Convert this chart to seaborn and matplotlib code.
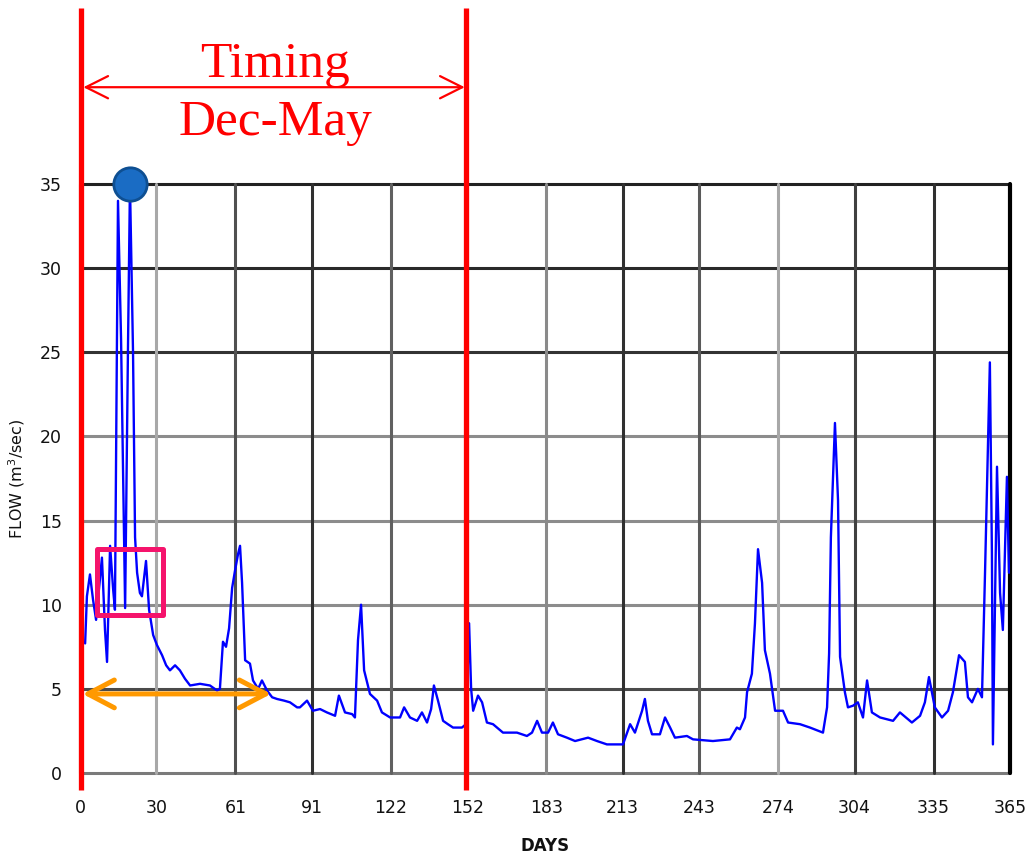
import matplotlib
matplotlib.use("Agg")
import matplotlib.pyplot as plt
import matplotlib.transforms as mtransforms
from matplotlib.patches import Rectangle
import seaborn as sns
import pandas as pd

# ---------------- data ----------------
days = [2.0, 2.7, 3.9, 5.1, 6.3, 7.5, 8.6, 9.8, 10.6, 11.8, 13.0, 13.7, 14.9, 16.1,
        17.7, 18.8, 19.6, 20.8, 21.6, 22.4, 23.5, 24.3, 25.9, 27.1, 28.7, 30.2, 32.2,
        33.8, 35.3, 37.3, 39.2, 41.2, 43.2, 47.1, 51.0, 53.8, 54.9, 56.1, 57.3, 58.5,
        59.7, 60.8, 62.0, 62.8, 63.6, 64.8, 66.7, 67.9, 69.9, 71.4, 73.4, 75.4, 77.3,
        80.1, 82.4, 85.2, 86.3, 89.1, 91.4, 94.2, 96.9, 100.1, 101.6, 104.0, 106.8,
        107.9, 109.1, 110.3, 111.5, 113.8, 116.6, 118.5, 121.7, 125.6, 127.2, 129.5,
        132.3, 134.2, 136.2, 137.8, 138.9, 140.5, 142.5, 144.4, 146.4, 149.9, 151.5,
        152.7, 153.5, 154.3, 156.2, 157.8, 159.7, 162.1, 166.0, 171.5, 175.4, 177.4,
        179.4, 181.3, 183.7, 185.6, 187.6, 191.1, 194.3, 199.4, 202.9, 206.8, 213.1,
        215.9, 217.8, 220.6, 221.7, 222.9, 224.5, 227.6, 229.6, 231.6, 233.5, 238.2,
        240.6, 248.4, 255.1, 257.8, 259.0, 261.0, 261.8, 263.7, 264.9, 266.1, 267.7,
        268.8, 270.8, 272.8, 275.9, 277.9, 282.6, 286.5, 291.6, 293.2, 294.0, 294.7,
        296.3, 297.5, 298.3, 300.2, 301.4, 303.4, 305.3, 307.3, 308.9, 310.8, 314.0,
        319.1, 321.8, 326.5, 329.7, 331.6, 333.2, 335.5, 338.3, 340.7, 342.6, 345.0,
        347.3, 348.5, 350.1, 352.4, 354.0, 355.2, 357.1, 357.9, 358.3, 359.9, 361.1,
        362.2, 363.8, 364.6]
flows = [7.7, 10.5, 11.8, 10.3, 9.1, 11.0, 12.8, 8.5, 6.6, 13.5, 10.9, 9.7, 34.0, 25.8,
         9.8, 25.0, 35.0, 25.0, 14.0, 11.9, 10.7, 10.5, 12.6, 9.7, 8.2, 7.6, 7.0,
         6.4, 6.1, 6.4, 6.1, 5.6, 5.2, 5.3, 5.2, 4.9, 5.0, 7.8, 7.5, 8.6,
         11.0, 12.0, 13.0, 13.5, 11.3, 6.7, 6.5, 5.5, 5.0, 5.5, 4.9, 4.5, 4.4,
         4.3, 4.2, 3.9, 3.9, 4.3, 3.7, 3.8, 3.6, 3.4, 4.6, 3.6, 3.5,
         3.3, 7.9, 10.0, 6.1, 4.7, 4.3, 3.6, 3.3, 3.3, 3.9, 3.3,
         3.1, 3.6, 3.0, 3.8, 5.2, 4.3, 3.1, 2.9, 2.7, 2.7, 2.9,
         8.9, 5.0, 3.7, 4.6, 4.2, 3.0, 2.9, 2.4, 2.4, 2.2, 2.4,
         3.1, 2.4, 2.4, 3.0, 2.3, 2.1, 1.9, 2.1, 1.9, 1.7, 1.7,
         2.9, 2.4, 3.7, 4.4, 3.1, 2.3, 2.3, 3.3, 2.7, 2.1, 2.2,
         2.0, 1.9, 2.0, 2.7, 2.6, 3.3, 4.8, 5.9, 8.9, 13.3, 11.3,
         7.3, 5.9, 3.7, 3.7, 3.0, 2.9, 2.7, 2.4, 3.9, 7.1, 14.0,
         20.8, 16.2, 6.9, 4.8, 3.9, 4.0, 4.2, 3.3, 5.5, 3.6, 3.3,
         3.1, 3.6, 3.0, 3.4, 4.2, 5.7, 3.9, 3.3, 3.7, 4.8, 7.0,
         6.6, 4.5, 4.2, 5.0, 4.5, 11.9, 24.4, 13.1, 1.7, 18.2, 10.7,
         8.5, 17.6, 11.9]

x_ticks = [0, 30, 61, 91, 122, 152, 183, 213, 243, 274, 304, 335, 365]
x_tick_labels = [str(v) for v in x_ticks]
y_ticks = [0, 5, 10, 15, 20, 25, 30, 35]
y_tick_labels = [str(v) for v in y_ticks]

timing_start, timing_end = 0.5, 151.6      # red "Timing" bounds (days)
peak_day, peak_flow = 19.6, 35.0           # blue peak marker
box_x0, box_x1, box_y0, box_y1 = 6.7, 32.6, 9.4, 13.3   # pink box
dur_start, dur_end, dur_level = 1.0, 75.0, 4.7          # orange duration arrow

title_line1 = "Timing"
title_line2 = "Dec-May"
x_label = "DAYS"
y_label = "FLOW (m$^3$/sec)"

# grid line colours (style only)
vgrid_colors = ['#808080', '#a8a8a8', '#505050', '#303030', '#606060', '#606060',
                '#8a8a8a', '#303030', '#5a5a5a', '#a8a8a8', '#404040', '#303030', '#000000']
hgrid_colors = ['#7a7a7a', '#4a4a4a', '#8c8c8c', '#8c8c8c', '#8c8c8c', '#333333',
                '#2a2a2a', '#222222']

# ---------------- figure ----------------
sns.set_style("white")
plt.rcParams['font.family'] = ['DejaVu Sans']

fig = plt.figure(figsize=(10.26, 8.55), dpi=100)
ax = fig.add_axes([0.078, 0.0959, 0.9064, 0.6889])
ax.set_xlim(0, 365)
ax.set_ylim(0, 35)

for v, c in zip(y_ticks, hgrid_colors):
    ax.axhline(v, color=c, lw=2.2, zorder=1, clip_on=False)
for v, c in zip(x_ticks, vgrid_colors):
    ax.axvline(v, color=c, lw=2.2 if v != 365 else 3.0, zorder=1, clip_on=False)
for s in ax.spines.values():
    s.set_visible(False)

df = pd.DataFrame({"day": days, "flow": flows})
sns.lineplot(data=df, x="day", y="flow", ax=ax, color="#0000ff", lw=1.7,
             sort=False, estimator=None, zorder=3)

ax.set_xticks(x_ticks)
ax.set_xticklabels(x_tick_labels)
ax.set_yticks(y_ticks)
ax.set_yticklabels(y_tick_labels)
ax.tick_params(axis='x', length=5, width=1.5, color='#777777', pad=14,
               labelsize=12.5, labelcolor='#111111')
ax.tick_params(axis='y', length=5, width=1.5, color='#777777', pad=8,
               labelsize=12.5, labelcolor='#111111')
ax.set_xlabel(x_label, fontsize=12, fontweight='bold', color='#111111')
ax.set_ylabel(y_label, fontsize=11.5, color='#111111')
ax.xaxis.set_label_coords(0.5, -0.108)
ax.yaxis.set_label_coords(-0.057, 0.5)

# red timing lines extending beyond the axes
blend = mtransforms.blended_transform_factory(ax.transData, fig.transFigure)
for d in (timing_start, timing_end):
    ax.plot([d, d], [0.076, 0.9906], transform=blend, color='#ff0000',
            lw=3.8, clip_on=False, zorder=6, solid_capstyle='butt')

# red double arrow
ax.annotate("", xy=(timing_start + 0.8, 0.898), xytext=(timing_end - 0.6, 0.898),
            xycoords=blend, textcoords=blend,
            arrowprops=dict(arrowstyle='<->,head_length=0.8,head_width=0.4',
                            color='#ff0000', lw=1.6, mutation_scale=20,
                            shrinkA=0, shrinkB=0), zorder=6, annotation_clip=False)

fig.text(275 / 1026, 1 - 65 / 855, title_line1, color='#ff0000', fontsize=37,
         family=['Liberation Serif', 'DejaVu Serif'], ha='center', va='center')
fig.text(275 / 1026, 1 - 123 / 855, title_line2, color='#ff0000', fontsize=37,
         family=['Liberation Serif', 'DejaVu Serif'], ha='center', va='center')

# pink box
ax.add_patch(Rectangle((box_x0, box_y0), box_x1 - box_x0, box_y1 - box_y0,
                       fill=False, edgecolor='#f5146c', lw=3.6, zorder=5,
                       joinstyle='round'))

# orange duration arrow
ax.annotate("", xy=(dur_start, dur_level), xytext=(dur_end, dur_level),
            xycoords='data', textcoords='data',
            arrowprops=dict(arrowstyle='<->,head_length=0.95,head_width=0.5',
                            color='#ff9900', lw=3.6, mutation_scale=20,
                            shrinkA=0, shrinkB=0), zorder=5, annotation_clip=False)

# blue peak marker
ax.plot([peak_day], [peak_flow], 'o', ms=24, mfc='#1a6cc4', mec='#0e4f92', mew=2,
        clip_on=False, zorder=7)

fig.savefig("out.png", dpi=100, facecolor='white')
